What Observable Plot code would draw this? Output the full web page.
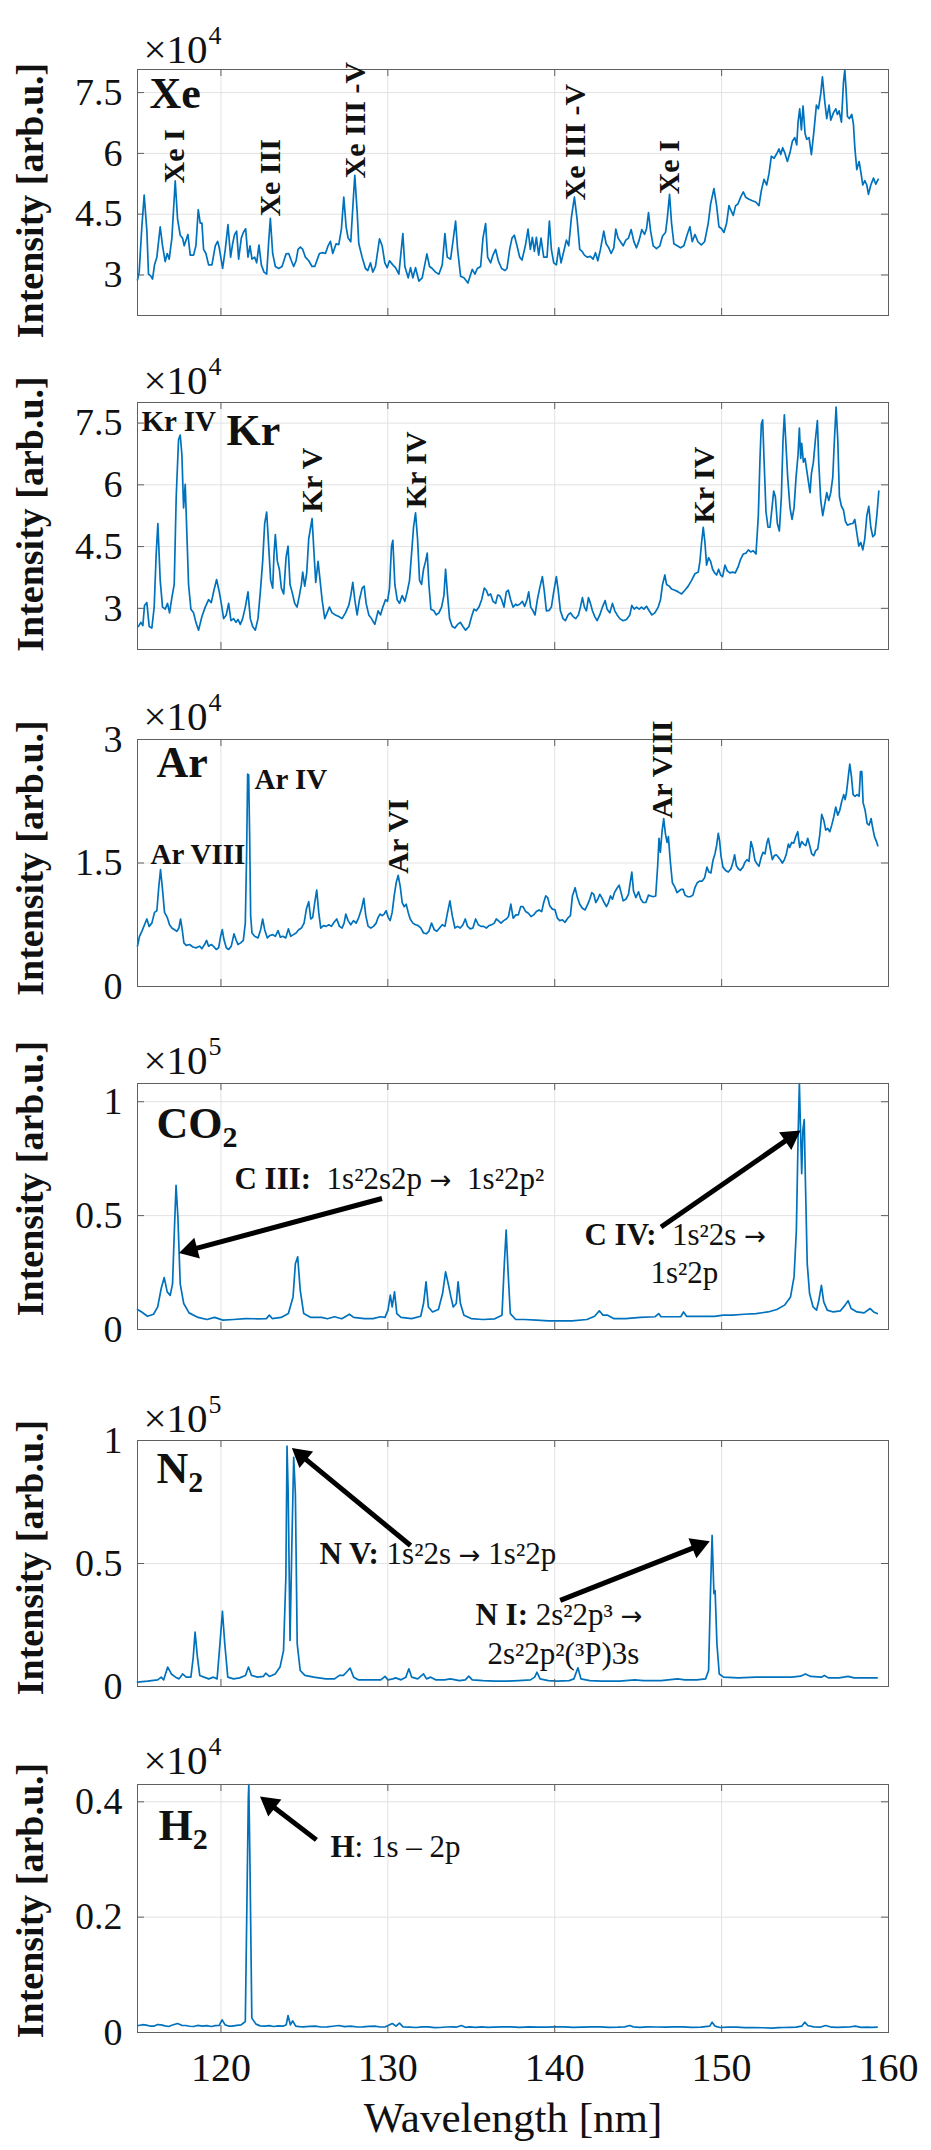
<!DOCTYPE html>
<html><head><meta charset="utf-8">
<script src="https://cdn.jsdelivr.net/npm/d3@7"></script>
<script src="https://cdn.jsdelivr.net/npm/@observablehq/plot@0.6"></script>
<style>
body{margin:0;background:#fff;}
#fig{position:relative;width:931px;height:2150px;background:#fff;}
#fig svg{position:absolute;left:0;overflow:visible;}
</style></head><body><div id="fig"></div>
<script>
// ---------------- data (intensity in units of 10^exp) ----------------
const xeWl=[115.0,115.1,115.26,115.4,115.56,115.66,115.8,115.9,116.02,116.16,116.36,116.5,116.66,116.78,116.9,117.06,117.26,117.4,117.56,117.7,117.8,118.02,118.16,118.36,118.5,118.64,118.76,118.86,118.96,119.1,119.26,119.46,119.66,119.8,119.9,120.1,120.26,120.42,120.58,120.7,120.82,120.94,121.06,121.22,121.34,121.48,121.62,121.74,121.86,122.02,122.14,122.28,122.42,122.58,122.74,122.86,122.96,123.1,123.26,123.46,123.66,123.9,124.06,124.22,124.36,124.5,124.62,124.76,124.9,125.06,125.26,125.46,125.62,125.78,125.9,126.1,126.26,126.42,126.56,126.7,126.9,127.06,127.22,127.36,127.5,127.62,127.78,127.9,128.02,128.16,128.26,128.46,128.66,128.8,128.96,129.1,129.26,129.5,129.66,129.82,129.96,130.1,130.3,130.46,130.66,130.9,131.02,131.22,131.36,131.5,131.66,131.86,132.06,132.34,132.5,132.66,132.86,133.06,133.26,133.42,133.56,133.76,133.9,134.06,134.18,134.36,134.56,134.8,135.06,135.22,135.36,135.56,135.7,135.86,135.98,136.16,136.3,136.46,136.62,136.82,137.02,137.14,137.3,137.44,137.58,137.74,137.9,138.04,138.24,138.4,138.54,138.66,138.78,138.9,139.04,139.18,139.34,139.54,139.68,139.8,139.94,140.1,140.24,140.38,140.54,140.7,140.84,141.0,141.18,141.34,141.5,141.64,141.78,141.94,142.14,142.3,142.44,142.58,142.74,142.94,143.08,143.24,143.38,143.54,143.66,143.8,143.94,144.1,144.26,144.42,144.58,144.74,144.9,145.06,145.22,145.38,145.5,145.62,145.74,145.9,146.1,146.3,146.46,146.64,146.74,146.88,147.0,147.14,147.34,147.54,147.74,147.94,148.1,148.24,148.4,148.58,148.78,148.98,149.2,149.34,149.54,149.7,149.84,150.0,150.14,150.3,150.44,150.54,150.7,150.84,150.98,151.14,151.3,151.44,151.64,151.84,152.04,152.24,152.38,152.54,152.7,152.84,152.98,153.14,153.3,153.44,153.54,153.66,153.78,153.94,154.1,154.24,154.38,154.5,154.58,154.68,154.78,154.88,155.0,155.1,155.24,155.38,155.54,155.68,155.8,155.94,156.04,156.18,156.3,156.44,156.54,156.7,156.84,156.94,157.04,157.18,157.3,157.38,157.46,157.54,157.66,157.8,157.9,157.98,158.1,158.24,158.34,158.46,158.58,158.7,158.8,158.94,159.1,159.24,159.38];
const xeInt=[2.88,3.07,4.19,4.97,4.1,3.02,2.97,2.9,3.25,3.44,4.19,3.72,3.33,3.53,3.39,3.91,5.32,4.38,3.98,3.91,3.72,4.0,3.49,3.49,3.72,4.61,4.28,4.28,3.63,3.53,3.25,3.25,3.72,3.83,3.67,3.16,3.63,4.24,3.44,3.77,4.0,4.08,3.39,3.91,4.05,4.14,3.44,3.72,3.39,3.44,3.3,3.74,3.25,3.07,3.02,3.82,4.4,3.53,3.21,3.16,3.21,3.52,3.53,3.35,3.21,3.35,3.63,3.69,3.63,3.44,3.35,3.21,3.21,3.39,3.53,3.55,3.53,3.72,3.83,3.53,3.77,3.75,4.14,4.92,4.19,3.91,3.82,4.66,5.46,4.57,3.77,3.44,3.16,3.11,3.3,3.07,3.21,3.89,3.72,3.3,3.18,3.35,3.25,3.18,3.02,4.02,3.21,2.93,3.18,2.93,3.18,2.85,2.93,3.52,3.21,3.16,3.07,3.02,3.25,4.02,3.44,3.39,3.82,4.33,3.63,2.97,2.93,2.8,3.14,3.02,3.16,3.21,3.91,4.27,3.44,3.3,3.49,3.63,3.35,3.16,3.11,3.16,3.63,3.91,3.98,3.72,3.44,3.37,3.72,4.13,3.63,3.93,3.58,3.93,3.49,3.91,3.44,3.44,4.33,3.63,3.3,3.25,3.67,3.3,3.58,3.86,3.72,4.42,4.92,4.38,3.63,3.58,3.49,3.44,3.46,3.39,3.55,3.35,3.63,4.08,3.77,3.67,3.53,3.67,4.13,3.91,3.82,3.72,3.86,3.91,4.12,3.83,3.67,3.86,4.12,4.0,4.14,4.54,4.1,3.72,3.65,3.72,3.96,4.05,4.38,4.99,4.28,3.77,3.72,3.67,3.72,4.0,4.19,3.82,4.0,3.82,3.74,3.82,4.28,4.75,5.13,4.71,4.19,4.14,4.05,4.28,4.71,4.61,4.47,4.71,4.75,4.92,5.05,4.92,4.87,4.83,4.8,4.71,5.08,5.36,5.22,5.5,5.93,5.88,5.99,6.11,5.97,6.14,6.02,5.8,6.02,6.3,6.39,6.21,6.77,7.1,6.58,7.17,6.49,6.35,6.39,5.97,6.58,7.19,7.1,7.47,7.89,7.28,6.86,7.19,6.82,7.0,7.1,6.96,7.05,6.77,7.75,8.06,7.56,6.91,6.86,6.96,6.72,6.16,5.6,5.8,5.55,5.22,5.33,5.22,4.99,5.22,5.39,5.24,5.36];

const krWl=[115.06,115.2,115.32,115.42,115.56,115.7,115.86,116.0,116.12,116.22,116.36,116.5,116.66,116.8,116.92,117.06,117.2,117.32,117.46,117.56,117.66,117.76,117.86,117.96,118.06,118.2,118.36,118.5,118.66,118.86,119.06,119.26,119.42,119.58,119.74,119.9,120.02,120.16,120.32,120.46,120.6,120.76,120.9,121.02,121.16,121.3,121.46,121.62,121.76,121.9,122.06,122.22,122.36,122.5,122.62,122.74,122.86,122.98,123.1,123.18,123.26,123.38,123.5,123.62,123.76,123.9,124.02,124.14,124.26,124.42,124.56,124.7,124.82,124.9,125.02,125.14,125.26,125.46,125.58,125.68,125.82,125.94,126.06,126.22,126.36,126.5,126.66,126.86,127.06,127.26,127.46,127.66,127.78,127.9,128.02,128.16,128.3,128.46,128.58,128.7,128.86,129.02,129.22,129.42,129.56,129.7,129.86,129.98,130.1,130.22,130.3,130.42,130.56,130.7,130.86,131.02,131.16,131.3,131.42,131.54,131.66,131.78,131.9,132.02,132.14,132.26,132.36,132.46,132.58,132.76,132.9,133.06,133.22,133.36,133.46,133.58,133.7,133.86,134.02,134.18,134.34,134.5,134.66,134.86,135.02,135.16,135.3,135.46,135.62,135.78,135.9,136.02,136.16,136.3,136.46,136.58,136.7,136.82,136.96,137.1,137.22,137.36,137.5,137.66,137.74,137.9,138.06,138.2,138.34,138.44,138.56,138.7,138.82,138.96,139.1,139.26,139.38,139.5,139.66,139.8,139.94,140.1,140.22,140.34,140.5,140.64,140.8,140.94,141.1,141.26,141.42,141.54,141.66,141.78,141.9,142.02,142.14,142.26,142.4,142.54,142.7,142.86,143.02,143.14,143.3,143.46,143.6,143.74,143.9,144.1,144.3,144.5,144.62,144.76,144.9,145.06,145.2,145.34,145.5,145.66,145.82,146.0,146.2,146.34,146.46,146.6,146.7,146.86,147.0,147.2,147.4,147.6,147.8,148.0,148.2,148.4,148.6,148.7,148.8,148.9,149.0,149.1,149.22,149.34,149.46,149.58,149.7,149.82,149.94,150.06,150.2,150.34,150.5,150.66,150.82,150.98,151.14,151.3,151.46,151.6,151.74,151.9,152.06,152.2,152.3,152.38,152.46,152.54,152.66,152.78,152.9,153.02,153.12,153.22,153.34,153.46,153.58,153.68,153.76,153.84,153.96,154.1,154.22,154.34,154.46,154.58,154.66,154.74,154.8,154.9,155.0,155.1,155.2,155.3,155.38,155.5,155.62,155.74,155.82,155.94,156.06,156.18,156.3,156.42,156.54,156.66,156.76,156.86,156.96,157.06,157.18,157.3,157.42,157.54,157.7,157.86,157.98,158.1,158.22,158.34,158.46,158.58,158.7,158.82,158.94,159.06,159.18,159.3,159.42];
const krInt=[2.56,2.66,2.58,3.07,3.14,2.56,2.52,3.03,4.32,5.06,3.68,3.03,2.98,3.12,2.89,3.26,3.58,5.71,7.1,7.21,6.73,5.44,6.01,4.79,3.58,2.98,2.89,2.66,2.47,2.8,3.03,3.21,3.14,3.44,3.7,3.4,3.12,2.75,2.84,3.12,2.7,2.75,2.66,2.73,2.61,2.75,3.03,3.4,2.75,2.56,2.47,2.75,3.4,4.14,5.06,5.34,4.51,3.68,3.49,4.32,4.79,4.14,3.95,3.49,3.35,4.23,4.51,3.58,3.4,3.12,3.03,3.31,3.58,3.88,3.54,3.86,4.69,5.18,4.32,3.63,4.14,3.68,3.21,2.75,2.89,3.03,2.89,2.84,2.8,2.75,2.89,3.07,3.31,3.63,3.21,2.84,3.21,3.49,3.54,3.12,2.84,2.75,2.61,2.94,2.84,3.03,3.21,3.17,3.49,4.51,4.65,3.58,3.21,3.12,3.31,3.17,3.4,3.68,4.32,4.97,5.32,4.69,3.68,3.58,3.95,4.14,4.34,3.58,2.98,2.94,2.84,2.89,3.03,3.31,3.95,3.31,2.75,2.56,2.52,2.61,2.66,2.56,2.47,2.56,2.8,2.98,2.94,3.03,3.21,3.49,3.44,3.31,3.35,3.17,3.12,3.32,3.31,3.21,3.03,3.4,3.44,3.21,3.03,3.1,3.07,3.1,3.17,3.05,3.21,3.4,3.03,2.94,2.84,3.21,3.49,3.77,3.4,2.94,2.95,3.03,3.4,3.77,3.4,2.94,2.75,2.7,2.84,2.89,2.8,2.75,2.84,3.03,3.26,3.03,2.94,3.26,3.12,2.94,2.8,2.7,2.84,3.03,3.19,2.98,2.89,3.12,2.94,2.84,2.75,2.7,2.73,2.84,3.07,2.98,3.03,2.98,3.03,2.98,3.05,2.94,2.84,2.89,3.03,3.21,3.58,3.81,3.58,3.54,3.47,3.44,3.4,3.35,3.44,3.54,3.68,3.84,3.88,4.14,4.6,4.97,4.6,4.05,4.23,4.14,3.95,3.86,3.81,3.95,3.81,3.77,4.05,3.91,3.86,3.88,3.86,4.0,4.19,4.32,4.34,4.42,4.37,4.4,4.32,5.25,6.64,7.47,7.58,6.64,5.34,4.97,4.97,5.44,5.85,5.71,5.06,4.88,5.71,7.1,7.7,7.1,6.18,5.44,5.16,5.44,6.18,6.73,7.38,6.64,7.01,6.55,6.64,6.36,6.08,5.81,6.27,6.55,7.1,7.56,6.55,5.62,5.25,5.53,5.81,5.62,5.81,6.18,7.1,7.89,7.1,5.71,5.48,5.39,5.11,5.02,5.05,5.06,5.16,4.83,4.51,4.6,4.42,4.69,5.25,5.48,4.97,4.74,4.79,5.25,5.85];

const arWl=[115.0,115.12,115.26,115.42,115.56,115.7,115.86,116.02,116.16,116.28,116.38,116.48,116.62,116.78,116.92,117.06,117.22,117.36,117.48,117.58,117.68,117.78,117.92,118.12,118.32,118.52,118.72,118.86,119.02,119.14,119.26,119.42,119.54,119.72,119.86,119.98,120.08,120.18,120.32,120.46,120.62,120.78,120.9,121.02,121.18,121.34,121.46,121.54,121.6,121.66,121.72,121.78,121.86,122.02,122.22,122.38,122.5,122.62,122.78,122.94,123.1,123.26,123.42,123.56,123.72,123.88,124.04,124.18,124.34,124.5,124.66,124.82,124.98,125.12,125.26,125.38,125.5,125.62,125.74,125.86,125.98,126.14,126.3,126.46,126.62,126.78,126.94,127.1,127.26,127.38,127.48,127.62,127.78,127.94,128.1,128.26,128.42,128.56,128.68,128.82,128.98,129.14,129.3,129.42,129.54,129.66,129.78,129.9,130.02,130.14,130.26,130.38,130.5,130.62,130.74,130.86,130.98,131.1,131.22,131.34,131.5,131.66,131.82,131.98,132.14,132.3,132.46,132.62,132.78,132.94,133.1,133.26,133.42,133.58,133.72,133.86,134.02,134.18,134.34,134.5,134.64,134.78,134.94,135.1,135.26,135.42,135.58,135.74,135.9,136.06,136.22,136.38,136.5,136.62,136.78,136.94,137.1,137.23,137.37,137.51,137.67,137.82,137.96,138.1,138.26,138.42,138.58,138.74,138.9,139.06,139.22,139.34,139.46,139.58,139.7,139.86,140.02,140.16,140.3,140.46,140.62,140.78,140.94,141.06,141.22,141.36,141.5,141.66,141.82,141.98,142.1,142.22,142.34,142.46,142.58,142.7,142.82,142.96,143.1,143.22,143.34,143.46,143.58,143.72,143.86,143.98,144.1,144.26,144.42,144.52,144.62,144.72,144.86,145.02,145.16,145.3,145.46,145.62,145.76,145.9,146.05,146.17,146.25,146.33,146.43,146.53,146.63,146.73,146.81,146.93,147.05,147.19,147.33,147.45,147.57,147.69,147.81,147.97,148.12,148.28,148.4,148.54,148.68,148.84,148.98,149.12,149.24,149.36,149.48,149.6,149.7,149.8,149.88,149.96,150.08,150.24,150.4,150.56,150.68,150.78,150.88,151.0,151.12,151.28,151.4,151.52,151.64,151.76,151.88,152.0,152.12,152.24,152.36,152.48,152.6,152.72,152.8,152.92,153.04,153.16,153.28,153.4,153.52,153.64,153.76,153.88,154.0,154.08,154.2,154.32,154.44,154.56,154.68,154.8,154.92,155.04,155.16,155.28,155.4,155.52,155.64,155.76,155.88,156.0,156.12,156.24,156.36,156.48,156.6,156.72,156.84,156.96,157.08,157.2,157.32,157.4,157.48,157.58,157.68,157.78,157.88,158.0,158.12,158.24,158.32,158.4,158.48,158.6,158.72,158.84,158.96,159.04,159.16,159.28,159.36];
const arInt=[0.49,0.61,0.67,0.75,0.82,0.73,0.77,0.9,0.92,1.22,1.42,1.22,0.9,0.84,0.75,0.71,0.69,0.67,0.71,0.82,0.69,0.53,0.5,0.51,0.48,0.47,0.49,0.46,0.51,0.56,0.49,0.51,0.49,0.45,0.47,0.61,0.69,0.57,0.47,0.45,0.49,0.64,0.57,0.51,0.53,0.56,0.77,1.63,2.58,2.57,1.83,0.86,0.65,0.61,0.59,0.69,0.82,0.69,0.59,0.62,0.63,0.61,0.68,0.6,0.61,0.59,0.7,0.61,0.63,0.65,0.69,0.71,0.77,0.94,1.03,0.82,0.84,1.02,1.17,0.9,0.71,0.74,0.73,0.75,0.73,0.78,0.82,0.73,0.71,0.77,0.88,0.8,0.75,0.8,0.77,0.84,0.94,1.07,0.86,0.73,0.71,0.73,0.77,0.84,0.88,0.86,0.88,0.92,0.84,0.8,0.9,1.1,1.26,1.35,1.22,1.02,0.97,1.0,0.9,0.82,0.77,0.75,0.74,0.71,0.65,0.64,0.67,0.77,0.69,0.67,0.71,0.75,0.73,0.9,1.04,0.86,0.71,0.73,0.71,0.75,0.82,0.73,0.7,0.71,0.82,0.75,0.73,0.73,0.71,0.74,0.75,0.77,0.82,0.8,0.77,0.8,0.82,0.85,1.0,0.83,0.87,0.87,0.97,0.97,0.91,0.89,0.85,0.87,0.91,0.93,0.91,1.02,1.1,1.08,0.98,0.94,0.93,0.83,0.8,0.81,0.78,0.83,0.86,1.1,1.2,1.08,1.0,0.95,0.93,1.0,1.06,1.14,1.12,1.02,1.06,1.12,1.08,1.02,0.97,1.02,1.1,1.06,1.14,1.19,1.23,1.14,1.04,1.06,1.12,1.26,1.39,1.16,1.08,1.15,1.06,1.02,1.02,1.11,1.1,1.09,1.1,1.47,1.8,1.63,1.88,2.04,1.86,1.75,1.82,1.51,1.26,1.21,1.14,1.16,1.18,1.18,1.11,1.09,1.09,1.11,1.2,1.26,1.28,1.28,1.32,1.45,1.39,1.38,1.53,1.61,1.71,1.86,1.77,1.59,1.45,1.41,1.39,1.43,1.51,1.6,1.47,1.43,1.41,1.45,1.51,1.54,1.52,1.76,1.67,1.53,1.49,1.46,1.56,1.63,1.61,1.75,1.8,1.67,1.54,1.59,1.6,1.57,1.54,1.5,1.54,1.61,1.73,1.69,1.75,1.74,1.82,1.88,1.69,1.76,1.73,1.71,1.8,1.71,1.61,1.59,1.65,1.67,1.84,2.09,2.02,1.9,1.92,1.88,1.96,2.06,2.18,2.08,2.14,2.25,2.33,2.27,2.35,2.53,2.7,2.55,2.33,2.31,2.33,2.31,2.61,2.61,2.23,2.14,1.98,1.96,2.04,1.94,1.82,1.76,1.71];

const co2Wl=[115.0,115.25,115.6,115.96,116.21,116.42,116.6,116.78,116.96,117.1,117.21,117.31,117.42,117.56,117.77,118.09,118.63,119.16,119.62,120.12,120.76,121.47,122.19,122.72,122.9,123.07,123.61,124.04,124.32,124.46,124.6,124.75,124.96,125.39,126.03,126.38,126.81,127.24,127.7,127.95,128.59,129.12,129.55,129.83,130.01,130.15,130.26,130.4,130.54,130.79,131.43,131.97,132.14,132.29,132.43,132.68,133.03,133.28,133.46,133.64,133.78,133.92,134.1,134.21,134.35,134.56,134.99,135.7,136.41,136.84,136.98,137.09,137.2,137.34,137.66,138.19,138.9,139.62,140.33,141.04,141.93,142.39,142.67,142.89,143.17,143.53,144.24,145.13,146.02,146.23,146.37,147.08,147.55,147.72,147.9,148.68,149.57,150.11,150.64,151.35,152.06,152.78,153.31,153.77,154.13,154.34,154.48,154.59,154.66,154.73,154.8,154.87,154.95,155.02,155.13,155.27,155.48,155.69,155.83,155.98,156.12,156.33,156.69,157.12,157.4,157.58,157.76,158.11,158.54,158.9,159.11,159.32];
const co2Int=[0.088,0.077,0.058,0.067,0.099,0.18,0.228,0.165,0.15,0.2,0.436,0.633,0.494,0.2,0.114,0.073,0.053,0.044,0.053,0.041,0.044,0.048,0.047,0.048,0.063,0.048,0.053,0.07,0.143,0.289,0.319,0.173,0.07,0.053,0.053,0.047,0.056,0.047,0.067,0.053,0.048,0.048,0.056,0.053,0.085,0.151,0.099,0.165,0.07,0.053,0.048,0.058,0.114,0.209,0.099,0.077,0.088,0.158,0.253,0.194,0.143,0.099,0.114,0.209,0.114,0.063,0.048,0.044,0.047,0.063,0.289,0.436,0.26,0.07,0.044,0.044,0.041,0.038,0.038,0.038,0.044,0.058,0.082,0.063,0.063,0.048,0.048,0.053,0.056,0.07,0.056,0.056,0.056,0.077,0.058,0.058,0.058,0.063,0.063,0.067,0.07,0.077,0.088,0.107,0.143,0.231,0.436,0.874,1.08,0.874,0.684,0.874,0.921,0.655,0.289,0.158,0.099,0.085,0.129,0.194,0.121,0.085,0.077,0.082,0.107,0.126,0.092,0.077,0.073,0.092,0.077,0.07];

const n2Wl=[115.0,115.6,116.21,116.42,116.57,116.81,117.03,117.28,117.49,117.7,117.92,118.2,118.34,118.45,118.59,118.73,118.98,119.27,119.55,119.77,119.94,120.09,120.23,120.41,120.76,121.12,121.47,121.65,121.83,122.19,122.54,122.68,122.9,123.25,123.54,123.75,123.89,123.96,124.03,124.14,124.25,124.36,124.46,124.57,124.75,125.03,125.56,126.28,126.81,127.1,127.34,127.52,127.74,127.95,128.23,128.94,129.58,129.83,130.01,130.3,130.47,130.79,131.08,131.26,131.43,131.79,132.14,132.32,132.57,132.86,133.39,133.75,134.28,134.64,134.85,135.06,135.7,136.41,137.12,137.84,138.55,138.8,138.94,139.12,139.62,140.15,140.86,141.15,141.39,141.57,142.1,142.82,143.88,144.81,145.31,146.37,147.37,147.8,148.51,149.04,149.22,149.33,149.43,149.54,149.61,149.72,149.86,150.11,151.0,152.06,153.13,154.2,154.73,155.02,155.34,155.98,156.16,156.4,157.04,157.58,157.94,158.65,159.32];
const n2Int=[0.018,0.022,0.027,0.038,0.027,0.079,0.051,0.038,0.031,0.051,0.038,0.038,0.119,0.221,0.119,0.045,0.038,0.031,0.038,0.031,0.173,0.306,0.173,0.038,0.031,0.035,0.045,0.079,0.045,0.038,0.041,0.054,0.041,0.051,0.079,0.146,0.444,0.977,0.783,0.187,0.58,0.932,0.783,0.173,0.065,0.045,0.038,0.031,0.031,0.045,0.045,0.058,0.075,0.038,0.027,0.027,0.027,0.041,0.027,0.031,0.035,0.027,0.038,0.072,0.038,0.031,0.051,0.031,0.038,0.027,0.027,0.031,0.024,0.027,0.042,0.027,0.024,0.022,0.022,0.024,0.027,0.038,0.058,0.031,0.024,0.022,0.024,0.031,0.076,0.031,0.024,0.022,0.022,0.027,0.024,0.024,0.031,0.027,0.027,0.031,0.065,0.377,0.614,0.377,0.39,0.173,0.051,0.038,0.035,0.038,0.038,0.038,0.042,0.051,0.041,0.038,0.045,0.035,0.035,0.041,0.035,0.035,0.035];

const h2Wl=[115.06,115.3,115.52,115.75,115.98,116.2,116.41,116.65,116.87,117.1,117.4,117.65,117.9,118.12,118.36,118.6,118.9,119.15,119.43,119.65,119.89,120.07,120.25,120.45,120.68,120.95,121.21,121.46,121.56,121.64,121.67,121.74,121.85,122.1,122.35,122.63,122.9,123.16,123.45,123.73,123.91,124.02,124.16,124.3,124.48,124.7,124.94,125.3,125.65,126.0,126.36,126.7,127.07,127.4,127.79,128.15,128.5,128.85,129.21,129.55,129.85,130.27,130.49,130.7,130.91,131.3,131.7,132.05,132.41,132.8,133.12,133.5,133.83,134.1,134.4,134.65,134.9,135.25,135.61,136.0,136.32,136.85,137.38,137.9,138.45,139.0,139.52,140.05,140.58,141.1,141.65,142.2,142.72,143.25,143.78,144.2,144.49,144.71,145.1,145.56,146.1,146.63,147.15,147.69,148.2,148.76,149.29,149.43,149.61,149.9,150.4,150.89,151.4,151.96,152.5,153.03,153.4,153.74,154.1,154.45,154.8,154.98,155.16,155.52,155.9,156.23,156.59,156.95,157.3,157.65,158.01,158.35,158.72,159.0,159.32];
const h2Int=[0.0121,0.0135,0.0128,0.0112,0.011,0.0138,0.0133,0.0115,0.0104,0.013,0.0156,0.0125,0.0121,0.0108,0.0104,0.0122,0.011,0.0118,0.0104,0.012,0.0121,0.022,0.0133,0.0112,0.011,0.0125,0.0133,0.019,0.233,0.406,0.43,0.291,0.0249,0.0145,0.0115,0.011,0.0118,0.0104,0.0115,0.011,0.0133,0.0295,0.0133,0.0202,0.011,0.0102,0.0098,0.0105,0.011,0.0095,0.0098,0.0108,0.0121,0.0102,0.011,0.0095,0.0098,0.0106,0.011,0.0095,0.0098,0.0156,0.011,0.0162,0.0098,0.0092,0.0087,0.0098,0.0098,0.0085,0.0087,0.0095,0.0098,0.0092,0.0121,0.009,0.0098,0.0088,0.0098,0.009,0.0092,0.0097,0.0098,0.0088,0.0098,0.0092,0.0092,0.0098,0.0098,0.0088,0.0092,0.0098,0.0098,0.0089,0.0092,0.0098,0.0121,0.0098,0.009,0.0098,0.0095,0.0092,0.0098,0.0098,0.009,0.0092,0.011,0.0179,0.011,0.0087,0.0092,0.0092,0.0085,0.0087,0.0082,0.0075,0.0083,0.0087,0.009,0.0092,0.011,0.0179,0.0121,0.0098,0.0092,0.0121,0.0092,0.0088,0.0092,0.0095,0.011,0.009,0.0092,0.0088,0.0092];

const wlTicks=[120,130,140,150,160];
const gridWl=[120,130,140,150];
const xeTicks=[3,4.5,6,7.5], krTicks=[3,4.5,6,7.5], arTicks=[0,1.5,3];
const co2Ticks=[0,0.5,1], n2Ticks=[0,0.5,1], h2Ticks=[0,0.2,0.4];
const yLabel="Intensity [arb.u.]", xLabel="Wavelength [nm]";

// ---------------- layout / annotations ----------------
const panels=[
 {wl:xeWl,v:xeInt,exp:4,domain:[2,8.07],ticks:xeTicks,top:69,bottom:315,labelDy:8,expGap:7,
  notes:[{t:"Xe",x:115.72,y:7.13,s:44,b:1},
   {t:"Xe I",x:117.2,y:5.26,r:1},{t:"Xe III",x:122.97,y:4.44,r:1},{t:"Xe III -V",x:128.08,y:5.38,r:1},
   {t:"Xe III -V",x:141.22,y:4.84,r:1},{t:"Xe I",x:146.9,y:4.99,r:1}],arrows:[]},
 {wl:krWl,v:krInt,exp:4,domain:[2,8],ticks:krTicks,top:402,bottom:649,labelDy:-12,expGap:9,
  notes:[{t:"Kr IV",x:115.24,y:7.3,s:29,b:1},{t:"Kr",x:120.33,y:6.96,s:44,b:1},
   {t:"Kr V",x:125.46,y:5.33,r:1},{t:"Kr IV",x:131.7,y:5.43,r:1},{t:"Kr IV",x:148.98,y:5.06,r:1}],arrows:[]},
 {wl:arWl,v:arInt,exp:4,domain:[0,3],ticks:arTicks,top:739,bottom:986,labelDy:-5,expGap:10,
  notes:[{t:"Ar",x:116.14,y:2.54,s:44,b:1},{t:"Ar IV",x:122.01,y:2.4,s:29,b:1},{t:"Ar VIII",x:115.78,y:1.49,s:29,b:1},
   {t:"Ar VI",x:130.65,y:1.37,r:1},{t:"Ar VIII",x:146.45,y:2.04,r:1}],arrows:[]},
 {wl:co2Wl,v:co2Int,exp:5,domain:[0,1.08],ticks:co2Ticks,top:1083,bottom:1329,labelDy:-28,expGap:10,
  notes:[{t:"CO2",x:116.14,y:0.839,s:44,b:1},{t:"C III:  1s²2s2p →  1s²2p²",x:120.81,y:0.619,s:31},
   {t:"C IV:  1s²2s →",x:141.78,y:0.369,s:31},{t:"1s²2p",x:145.74,y:0.202,s:31}],
  arrows:[{x1:129.65,y1:0.575,x2:117.49,y2:0.336},{x1:146.37,y1:0.45,x2:154.73,y2:0.874}]},
 {wl:n2Wl,v:n2Int,exp:5,domain:[0,1],ticks:n2Ticks,top:1440,bottom:1686,labelDy:-6,expGap:9,
  notes:[{t:"N2",x:116.14,y:0.829,s:44,b:1},{t:"N V: 1s²2s → 1s²2p",x:125.9,y:0.496,s:31},
   {t:"N I: 2s²2p³ →",x:135.25,y:0.248,s:31},{t:"2s²2p²(³P)3s",x:135.97,y:0.093,s:31}],
  arrows:[{x1:131.36,y1:0.573,x2:124.25,y2:0.97},{x1:140.33,y1:0.35,x2:149.29,y2:0.59}]},
 {wl:h2Wl,v:h2Int,exp:4,domain:[0,0.43],ticks:h2Ticks,top:1784,bottom:2032,labelDy:-8,expGap:11,
  notes:[{t:"H2",x:116.26,y:0.333,s:44,b:1},{t:"H: 1s – 2p",x:126.56,y:0.305,s:31}],
  arrows:[{x1:125.72,y1:0.334,x2:122.34,y2:0.409}]}
];

const AR='<tspan font-family="DejaVu Sans" font-size="26">→</tspan>';
const rich={
 "CO2":'CO<tspan dy="9" font-size="30">2</tspan>',
 "N2":'N<tspan dy="9" font-size="30">2</tspan>',
 "H2":'H<tspan dy="9" font-size="30">2</tspan>',
 "C III:  1s²2s2p →  1s²2p²":'<tspan font-weight="bold">C III:</tspan>  1s²2s2p '+AR+'  1s²2p²',
 "C IV:  1s²2s →":'<tspan font-weight="bold">C IV:</tspan>  1s²2s '+AR,
 "N V: 1s²2s → 1s²2p":'<tspan font-weight="bold">N V:</tspan> 1s²2s '+AR+' 1s²2p',
 "N I: 2s²2p³ →":'<tspan font-weight="bold">N I:</tspan> 2s²2p³ '+AR,
 "H: 1s – 2p":'<tspan font-weight="bold">H</tspan>: 1s – 2p'
};

const FONT="'Liberation Serif','Times New Roman',serif";
const W=931, ML=137, MR=43, MT=69;
const fig=document.getElementById("fig");

function arrowMarks(a,xs,ys){
  const X1=xs(a.x1),Y1=ys(a.y1),X2=xs(a.x2),Y2=ys(a.y2);
  const L=Math.hypot(X2-X1,Y2-Y1),ux=(X2-X1)/L,uy=(Y2-Y1)/L;
  const r=8, hy=Math.sqrt(Math.PI*r*r/(Math.sqrt(3)*3)), tip=2*hy;
  const shaft={x1:a.x1,y1:a.y1,x2:xs.invert(X2-ux*tip*1.2),y2:ys.invert(Y2-uy*tip*1.2)};
  return [
    Plot.link([shaft],{x1:"x1",y1:"y1",x2:"x2",y2:"y2",stroke:"#000",strokeWidth:5}),
    Plot.dot([a],{x:"x2",y:"y2",symbol:"triangle",r,fill:"#000",stroke:"none",
      rotate:Math.atan2(ux,-uy)*180/Math.PI,dx:-ux*tip,dy:-uy*tip})
  ];
}

panels.forEach((p,i)=>{
  const last=i===panels.length-1;
  const H=p.bottom-p.top, MB=last?2150-p.bottom:12, PW=W-ML-MR;
  const xs=d3.scaleLinear([115,160],[ML,W-MR]);
  const ys=d3.scaleLinear(p.domain,[MT+H,MT]);
  const data=p.wl.map((w,k)=>({w,v:p.v[k]}));
  const marks=[
    Plot.gridY(p.ticks,{stroke:"#e2e2e2",strokeOpacity:1}),
    Plot.gridX(gridWl,{stroke:"#e2e2e2",strokeOpacity:1}),
    Plot.line(data,{x:"w",y:"v",stroke:"#0072BD",strokeWidth:1.7}),
    Plot.frame({stroke:"#606060"}),
    Plot.tickY(p.ticks,{y:d=>d,insetRight:PW-7,stroke:"#606060"}),
    Plot.tickY(p.ticks,{y:d=>d,insetLeft:PW-7,stroke:"#606060"}),
    Plot.tickX(gridWl,{x:d=>d,insetTop:H-7,stroke:"#606060"}),
    Plot.tickX(gridWl,{x:d=>d,insetBottom:H-7,stroke:"#606060"}),
    Plot.axisY(p.ticks,{tickSize:0,tickPadding:15,label:null,fontSize:38,tickFormat:d=>String(d)}),
    Plot.text([yLabel],{text:d=>d,frameAnchor:"left",dx:-107,dy:p.labelDy,rotate:-90,fontSize:38,fontWeight:"bold",textAnchor:"middle",lineAnchor:"middle"}),
    Plot.text(["×10"],{text:d=>d,frameAnchor:"top-left",dx:6,dy:-p.expGap,textAnchor:"start",lineAnchor:"bottom",fontSize:41}),
    Plot.text([String(p.exp)],{text:d=>d,frameAnchor:"top-left",dx:71,dy:-p.expGap-19,textAnchor:"start",lineAnchor:"bottom",fontSize:26})
  ];
  p.notes.forEach(n=>{
    if(n.r) marks.push(Plot.text([n],{x:"x",y:"y",text:"t",rotate:-90,textAnchor:"start",lineAnchor:"middle",fontSize:30,fontWeight:"bold"}));
    else marks.push(Plot.text([n],{x:"x",y:"y",text:"t",textAnchor:"start",lineAnchor:"bottom",fontSize:n.s,fontWeight:n.b?"bold":"normal"}));
  });
  p.arrows.forEach(a=>marks.push(...arrowMarks(a,xs,ys)));
  if(last){
    marks.push(Plot.axisX(wlTicks,{tickSize:0,tickPadding:20,label:null,fontSize:40}));
    marks.push(Plot.text([xLabel],{text:d=>d,frameAnchor:"bottom",dy:99,lineAnchor:"bottom",fontSize:43}));
  }
  const svg=Plot.plot({
    width:W,height:MT+H+MB,marginLeft:ML,marginRight:MR,marginTop:MT,marginBottom:MB,
    x:last?{domain:[115,160]}:{domain:[115,160],axis:null},
    y:{domain:p.domain},
    style:{fontFamily:FONT,fontSize:"38px",color:"#111",background:"transparent",overflow:"visible"},
    marks
  });
  svg.querySelectorAll("text").forEach(t=>{const r=rich[t.textContent]; if(r) t.innerHTML=r;});
  svg.style.top=(p.top-MT)+"px";
  fig.appendChild(svg);
});
</script></body></html>
